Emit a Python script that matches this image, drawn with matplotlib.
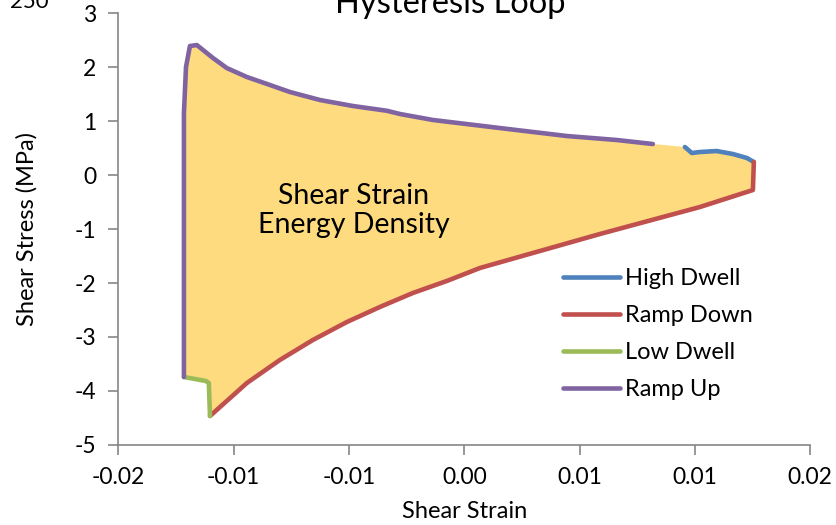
import matplotlib
matplotlib.use("Agg")
import matplotlib.pyplot as plt
import numpy as np

plt.rcParams['font.family'] = ['Lato', 'DejaVu Sans']

# Loop segments (shear strain, shear stress in MPa)
ramp_up_strain = [-0.01216, -0.01216, -0.01216, -0.01216, -0.01207, -0.01190, -0.01160,
                  -0.01090, -0.01030, -0.00943, -0.00843, -0.00756, -0.00626, -0.00483,
                  -0.00336, -0.00279, -0.00136, 0.00154, 0.00445, 0.00662, 0.00818]
ramp_up_stress = [-3.741, -2.31, -0.46, 1.148, 2.000, 2.389, 2.407,
                  2.167, 1.981, 1.815, 1.667, 1.537, 1.389, 1.278,
                  1.190, 1.130, 1.019, 0.870, 0.722, 0.648, 0.574]

high_dwell_strain = [0.00957, 0.00987, 0.01022, 0.01095, 0.01165, 0.01226, 0.01256]
high_dwell_stress = [0.519, 0.407, 0.426, 0.444, 0.389, 0.315, 0.241]

ramp_down_strain = [0.01256, 0.01252, 0.01022, 0.00588, 0.00068, -0.00076, -0.00223,
                    -0.00366, -0.00509, -0.00657, -0.00800, -0.00943, -0.01103]
ramp_down_stress = [0.241, -0.278, -0.593, -1.093, -1.722, -1.963, -2.185,
                    -2.444, -2.722, -3.056, -3.426, -3.852, -4.463]

low_dwell_strain = [-0.01103, -0.01108, -0.01121, -0.01216]
low_dwell_stress = [-4.463, -3.852, -3.815, -3.741]

x_ticks = [-0.015, -0.010, -0.005, 0.0, 0.005, 0.010, 0.015]
x_tick_labels = ['-0.02', '-0.01', '-0.01', '0.00', '0.01', '0.01', '0.02']
y_ticks = [-5, -4, -3, -2, -1, 0, 1, 2, 3]

colors = {
    'High Dwell': '#4F81BD',
    'Ramp Down': '#C0504D',
    'Low Dwell': '#9BBB59',
    'Ramp Up': '#8064A2',
}
fill_color = '#FFDB7F'
axis_color = '#868686'

fig = plt.figure(figsize=(8.36, 5.25), dpi=100)
ax = fig.add_axes([0.1417, 0.1524, 0.8273, 0.8228])

# Enclosed area of the loop
loop_x = np.concatenate([ramp_up_strain, high_dwell_strain, ramp_down_strain, low_dwell_strain])
loop_y = np.concatenate([ramp_up_stress, high_dwell_stress, ramp_down_stress, low_dwell_stress])
ax.fill(loop_x, loop_y, color=fill_color, lw=0, zorder=1)

lw = 3.3
ax.plot(high_dwell_strain, high_dwell_stress, color=colors['High Dwell'], lw=lw,
        solid_capstyle='round', solid_joinstyle='round', label='High Dwell', zorder=3)
ax.plot(ramp_down_strain, ramp_down_stress, color=colors['Ramp Down'], lw=lw,
        solid_capstyle='round', solid_joinstyle='round', label='Ramp Down', zorder=3)
ax.plot(low_dwell_strain, low_dwell_stress, color=colors['Low Dwell'], lw=lw,
        solid_capstyle='round', solid_joinstyle='round', label='Low Dwell', zorder=3)
ax.plot(ramp_up_strain, ramp_up_stress, color=colors['Ramp Up'], lw=lw,
        solid_capstyle='round', solid_joinstyle='round', label='Ramp Up', zorder=3)

ax.set_xlim(-0.015, 0.015)
ax.set_ylim(-5, 3)
ax.set_xticks(x_ticks)
ax.set_xticklabels(x_tick_labels)
ax.set_yticks(y_ticks)
ax.set_yticklabels([str(v) for v in y_ticks])

for side in ('top', 'right'):
    ax.spines[side].set_visible(False)
for side in ('left', 'bottom'):
    ax.spines[side].set_color(axis_color)
    ax.spines[side].set_linewidth(1.2)
ax.tick_params(axis='both', colors=axis_color, labelcolor='black', labelsize=16.5,
               length=7, width=1.2, direction='out')
ax.tick_params(axis='x', pad=9)
ax.tick_params(axis='y', pad=9)

ax.set_xlabel('Shear Strain', fontsize=17, labelpad=9)
ax.set_ylabel('Shear Stress (MPa)', fontsize=17, labelpad=27)

ax.text(-0.0048, -0.66, 'Shear Strain\nEnergy Density', fontsize=20.5,
        ha='center', va='center', linespacing=1.15, zorder=4)

leg = ax.legend(loc='upper left', bbox_to_anchor=(0.643, 0.41), frameon=False,
                fontsize=17, handlelength=2.4, handletextpad=0.2, labelspacing=0.68,
                borderaxespad=0, borderpad=0)

fig.text(0.538, 0.975, 'Hysteresis Loop', fontsize=23.5, ha='center', va='baseline')
fig.text(0.012, 0.985, '250', fontsize=16, ha='left', va='baseline')

fig.savefig('out.png', dpi=100)
